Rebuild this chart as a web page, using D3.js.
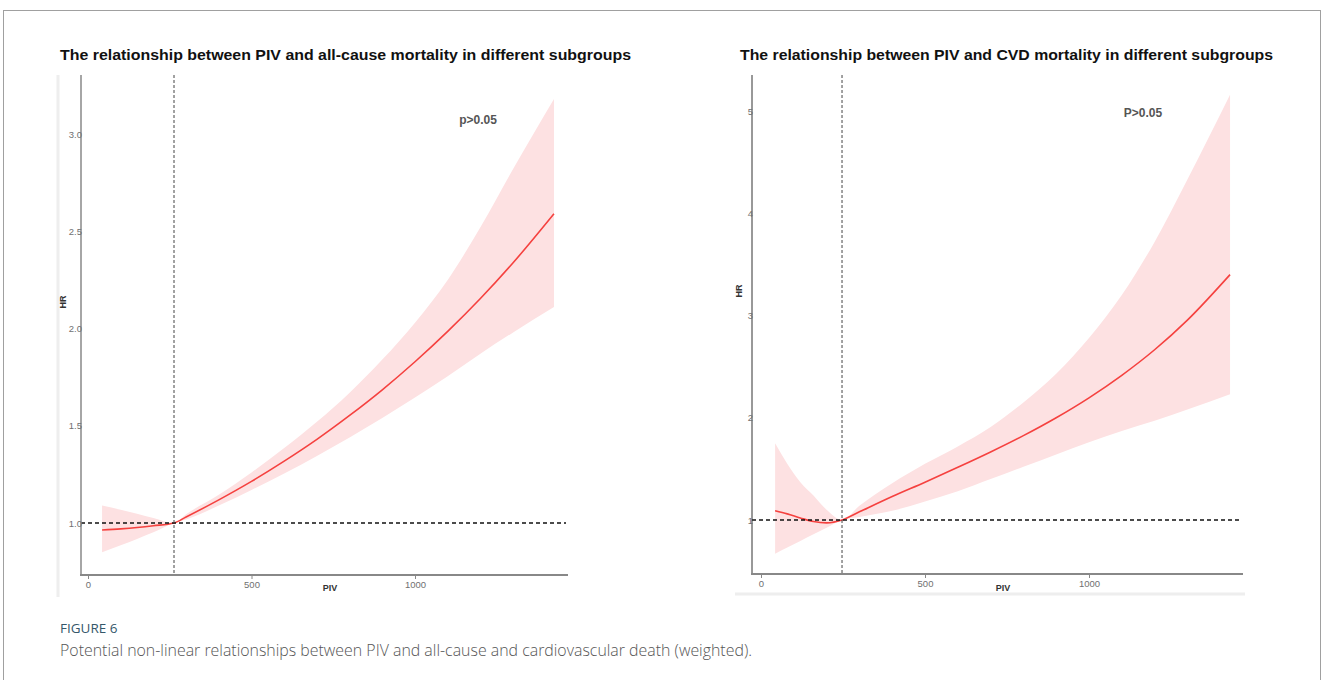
<!DOCTYPE html>
<html>
<head>
<meta charset="utf-8">
<script src="https://cdn.jsdelivr.net/npm/d3@7"></script>
<style>
  body { margin: 0; background: #fff; }
  svg { display: block; }
</style>
</head>
<body>
<div id="chart"></div>
<script>

// all-cause mortality panel
var pivAll = [43, 100, 150, 200, 263, 300, 400, 500, 600, 700, 800, 900, 1000, 1100, 1200, 1300, 1425];
var hrAll  = [0.964, 0.970, 0.977, 0.986, 1.0, 1.031, 1.119, 1.214, 1.318, 1.430, 1.553, 1.685, 1.829, 1.985, 2.154, 2.338, 2.59];
var loAll  = [0.85, 0.885, 0.918, 0.952, 1.0, 1.018, 1.09, 1.17, 1.255, 1.345, 1.44, 1.54, 1.645, 1.755, 1.87, 1.98, 2.11];
var hiAll  = [1.09, 1.068, 1.048, 1.026, 1.0, 1.045, 1.145, 1.26, 1.385, 1.52, 1.67, 1.84, 2.03, 2.25, 2.52, 2.82, 3.18];

// CVD mortality panel
var pivCvd = [43, 80, 120, 160, 200, 247, 300, 400, 500, 600, 700, 800, 900, 1000, 1100, 1200, 1300, 1430];
var hrCvd  = [1.09, 1.06, 1.02, 0.985, 0.972, 1.0, 1.08, 1.23, 1.37, 1.515, 1.665, 1.825, 2.0, 2.195, 2.415, 2.665, 2.955, 3.40];
var loCvd  = [0.67, 0.73, 0.795, 0.86, 0.925, 1.0, 1.03, 1.09, 1.18, 1.28, 1.40, 1.52, 1.64, 1.76, 1.87, 1.97, 2.08, 2.23];
var hiCvd  = [1.75, 1.55, 1.37, 1.24, 1.10, 1.0, 1.14, 1.36, 1.55, 1.72, 1.91, 2.15, 2.43, 2.78, 3.20, 3.72, 4.33, 5.16];

var xTicks = [0, 500, 1000];
var yTicksAll = [1.0, 1.5, 2.0, 2.5, 3.0];
var yTicksCvd = [1, 2, 3, 4, 5];

var W = 1328, H = 680;
var svg = d3.select('#chart').append('svg')
    .attr('width', W)
    .attr('height', H);

// outer figure frame
svg.append('rect')
    .attr('x', 3.5).attr('y', 10.5)
    .attr('width', 1317).attr('height', 700)
    .attr('fill', 'none')
    .attr('stroke', '#a0a0a0')
    .attr('stroke-width', 1);

function zip(px, a, b) {
    return px.map(function(p, i) { return {piv: p, a: a[i], b: b ? b[i] : null}; });
}

function drawPanel(opt) {
    var g = svg.append('g');
    var x = d3.scaleLinear().domain([0, 1000]).range(opt.xr);
    var y = d3.scaleLinear().domain(opt.yd).range(opt.yr);

    // title
    g.append('text')
        .attr('x', opt.titleX).attr('y', 60)
        .attr('textLength', opt.titleW)
        .attr('lengthAdjust', 'spacingAndGlyphs')
        .style('font-family', 'Liberation Sans, Arial, sans-serif')
        .style('font-size', '15px')
        .style('font-weight', 'bold')
        .attr('fill', '#111')
        .text(opt.title);

    // confidence band
    var area = d3.area()
        .x(function(d) { return x(d.piv); })
        .y0(function(d) { return y(d.a); })
        .y1(function(d) { return y(d.b); })
        .curve(d3.curveMonotoneX);
    g.append('path')
        .datum(zip(opt.piv, opt.lo, opt.hi))
        .attr('d', area)
        .attr('fill', '#fde1e2');

    // spline line
    var line = d3.line()
        .x(function(d) { return x(d.piv); })
        .y(function(d) { return y(d.a); })
        .curve(d3.curveMonotoneX);
    g.append('path')
        .datum(zip(opt.piv, opt.hr))
        .attr('d', line)
        .attr('fill', 'none')
        .attr('stroke', '#f5413f')
        .attr('stroke-width', 1.6);

    // reference lines
    g.append('line')
        .attr('x1', opt.axisL).attr('x2', opt.axisR - 2)
        .attr('y1', y(1)).attr('y2', y(1))
        .attr('stroke', '#111')
        .attr('stroke-width', 1.3)
        .attr('stroke-dasharray', '4,3');
    g.append('line')
        .attr('x1', x(opt.knot)).attr('x2', x(opt.knot))
        .attr('y1', opt.axisTop).attr('y2', opt.axisBot)
        .attr('stroke', '#444')
        .attr('stroke-width', 1)
        .attr('stroke-dasharray', '3,2');

    // axes lines
    g.append('line')
        .attr('x1', opt.axisL).attr('x2', opt.axisL)
        .attr('y1', opt.axisTop).attr('y2', opt.axisBot)
        .attr('stroke', opt.yAxisColor)
        .attr('stroke-width', opt.yAxisW);
    g.append('line')
        .attr('x1', opt.axisL - 1).attr('x2', opt.axisR)
        .attr('y1', opt.axisBot).attr('y2', opt.axisBot)
        .attr('stroke', '#888')
        .attr('stroke-width', 2);

    // y ticks
    var yAxis = d3.axisLeft(y)
        .tickValues(opt.yTicks)
        .tickSize(0)
        .tickPadding(-1)
        .tickFormat(opt.yFmt);
    var ya = g.append('g')
        .attr('transform', 'translate(' + opt.axisL + ',0)')
        .call(yAxis);
    ya.select('.domain').remove();
    ya.selectAll('text')
        .style('font-family', 'Liberation Sans, Arial, sans-serif')
        .style('font-size', '9.5px')
        .attr('fill', '#707070');

    // x ticks
    var xAxis = d3.axisBottom(x)
        .tickValues(xTicks)
        .tickSize(3)
        .tickPadding(2)
        .tickFormat(d3.format('d'));
    var xa = g.append('g')
        .attr('transform', 'translate(0,' + (opt.axisBot + 1) + ')')
        .call(xAxis);
    xa.select('.domain').remove();
    xa.selectAll('line').attr('stroke', '#888');
    xa.selectAll('text')
        .style('font-family', 'Liberation Sans, Arial, sans-serif')
        .style('font-size', '9.5px')
        .attr('fill', '#707070');

    // axis titles
    g.append('text')
        .attr('x', opt.pivX).attr('y', 591)
        .attr('text-anchor', 'middle')
        .style('font-family', 'Liberation Sans, Arial, sans-serif')
        .style('font-size', '9px')
        .style('font-weight', 'bold')
        .attr('fill', '#333')
        .text('PIV');
    g.append('text')
        .attr('transform', 'translate(' + opt.hrX + ',' + opt.hrY + ') rotate(-90)')
        .attr('text-anchor', 'middle')
        .style('font-family', 'Liberation Sans, Arial, sans-serif')
        .style('font-size', '9px')
        .style('font-weight', 'bold')
        .attr('fill', '#333')
        .text('HR');

    // p value
    g.append('text')
        .attr('x', opt.pX).attr('y', opt.pY)
        .attr('text-anchor', 'middle')
        .style('font-family', 'Liberation Sans, Arial, sans-serif')
        .style('font-size', '12px')
        .style('font-weight', 'bold')
        .attr('fill', '#555')
        .text(opt.pText);
}

// faint scan edges around the two pasted plots
svg.append('line')
    .attr('x1', 58).attr('x2', 58).attr('y1', 75).attr('y2', 597)
    .attr('stroke', '#eeeeee').attr('stroke-width', 3);
svg.append('line')
    .attr('x1', 735).attr('x2', 1245).attr('y1', 594).attr('y2', 594)
    .attr('stroke', '#eeeeee').attr('stroke-width', 3);

drawPanel({
    title: 'The relationship between PIV and all-cause mortality in different subgroups',
    titleX: 60, titleW: 571,
    piv: pivAll, hr: hrAll, lo: loAll, hi: hiAll,
    knot: 263,
    xr: [88, 415], yd: [1, 3], yr: [523, 134],
    axisL: 81, axisR: 568, axisTop: 75, axisBot: 575,
    yAxisColor: '#888', yAxisW: 1.5,
    yTicks: yTicksAll, yFmt: d3.format('.1f'),
    pivX: 330, hrX: 66, hrY: 302,
    pX: 478, pY: 124, pText: 'p>0.05'
});

drawPanel({
    title: 'The relationship between PIV and CVD mortality in different subgroups',
    titleX: 740, titleW: 533,
    piv: pivCvd, hr: hrCvd, lo: loCvd, hi: hiCvd,
    knot: 247,
    xr: [761, 1089], yd: [1, 5], yr: [520, 111],
    axisL: 752, axisR: 1243, axisTop: 75, axisBot: 574,
    yAxisColor: '#333', yAxisW: 1,
    yTicks: yTicksCvd, yFmt: d3.format('d'),
    pivX: 1003, hrX: 742, hrY: 291,
    pX: 1143, pY: 117, pText: 'P>0.05'
});

// caption
svg.append('text')
    .attr('x', 60).attr('y', 633)
    .style('font-family', 'Open Sans, sans-serif')
    .style('font-size', '13.5px')
    .attr('fill', '#35576a')
    .text('FIGURE 6');
svg.append('text')
    .attr('x', 60).attr('y', 656)
    .attr('textLength', 692)
    .attr('lengthAdjust', 'spacingAndGlyphs')
    .style('font-family', 'Open Sans, sans-serif')
    .style('font-size', '15.5px')
    .style('font-weight', 300)
    .attr('fill', '#555')
    .text('Potential non-linear relationships between PIV and all-cause and cardiovascular death (weighted).');

</script>
</body>
</html>
